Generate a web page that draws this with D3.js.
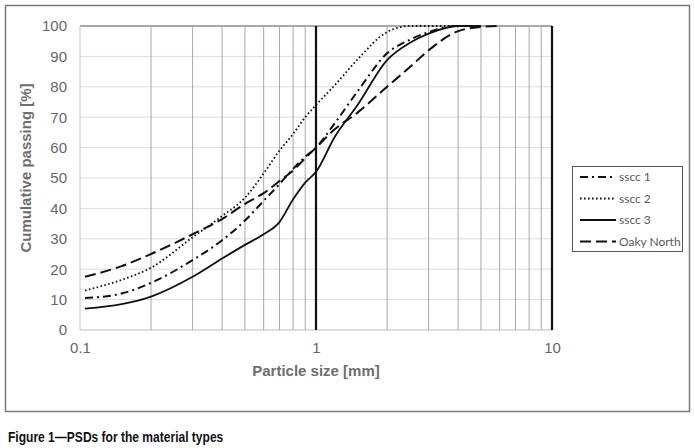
<!DOCTYPE html>
<html>
<head>
<meta charset="utf-8">
<script src="https://cdn.jsdelivr.net/npm/d3@7"></script>
<style>
  body { margin: 0; background: #fff; }
  svg { display: block; }
</style>
</head>
<body>
<div id="chart"></div>
<script>
// particle sizes [mm]
var sizes = [0.105, 0.15, 0.2, 0.3, 0.4, 0.5, 0.6, 0.7, 0.8, 0.9, 1, 1.2, 1.5, 2, 2.5, 3, 4, 5];
var sizesOaky = [0.105, 0.15, 0.2, 0.3, 0.4, 0.5, 0.6, 0.7, 0.8, 0.9, 1, 1.2, 1.5, 2, 2.5, 3, 4, 5, 6];

// cumulative passing [%]
var sscc1 = [10.5, 12, 15.5, 23, 29.5, 36, 42.5, 48, 53, 57, 60, 68, 78.5, 91, 95.5, 98, 100, 100];
var sscc2 = [13, 16.5, 20.5, 30.5, 37.5, 43.5, 51.5, 59, 64.5, 70, 74, 80.5, 89, 98, 100, 100, 100, 100];
var sscc3 = [7, 8.5, 11, 17.5, 23.5, 28, 31.5, 35.5, 43, 48.5, 52, 63.5, 74, 88.8, 94.5, 97.5, 100, 100];
var oaky  = [17.5, 21, 25, 31.5, 36.5, 41.5, 45, 49, 52.5, 56.5, 60, 66, 71.5, 80, 86.5, 92, 98.3, 99.7, 100];

var seriesNames = ["sscc 1", "sscc 2", "sscc 3", "Oaky North"];
var yTicks = [0, 10, 20, 30, 40, 50, 60, 70, 80, 90, 100];
var xTicks = [0.1, 1, 10];

var series = [
  { name: seriesNames[0], x: sizes, y: sscc1, dash: "8,4,2,4", w: 2 },
  { name: seriesNames[1], x: sizes, y: sscc2, dash: "1.6,2.4", w: 1.8 },
  { name: seriesNames[2], x: sizes, y: sscc3, dash: null, w: 1.8 },
  { name: seriesNames[3], x: sizesOaky, y: oaky, dash: "11,5", w: 2 }
];

var W = 695, H = 448;
var svg = d3.select("#chart").append("svg")
  .attr("width", W).attr("height", H);

// outer frame
svg.append("rect")
  .attr("x", 5.5).attr("y", 5.5)
  .attr("width", 684).attr("height", 406)
  .attr("fill", "none").attr("stroke", "#7a7a7a").attr("stroke-width", 1.5);

var x = d3.scaleLog().domain([0.1, 10]).range([80, 552]);
var y = d3.scaleLinear().domain([0, 100]).range([330, 26]);

// horizontal grid
svg.append("g").selectAll("line")
  .data(yTicks)
  .enter().append("line")
  .attr("x1", x(0.1)).attr("x2", x(10))
  .attr("y1", function(d) { return y(d); })
  .attr("y2", function(d) { return y(d); })
  .attr("stroke", function(d) { return d === 100 ? "#8c8c8c" : (d === 0 ? "#bdbdbd" : "#dcdcdc"); })
  .attr("stroke-width", function(d) { return d === 100 ? 1.5 : 1; });

// vertical grid (log minor + decades)
var vx = x.ticks();
svg.append("g").selectAll("line")
  .data(vx)
  .enter().append("line")
  .attr("x1", function(d) { return x(d); })
  .attr("x2", function(d) { return x(d); })
  .attr("y1", y(0)).attr("y2", y(100))
  .attr("stroke", function(d) {
    if (Math.abs(d - 1) < 1e-9 || Math.abs(d - 10) < 1e-9) return "#111";
    if (Math.abs(d - 0.1) < 1e-9) return "#c4c4c4";
    return "#a8a8a8";
  })
  .attr("stroke-width", function(d) {
    return (Math.abs(d - 1) < 1e-9 || Math.abs(d - 10) < 1e-9) ? 2.2 : 1;
  });

// axes (labels only)
var yAxis = svg.append("g")
  .attr("transform", "translate(" + (x(0.1) - 13) + ",0)")
  .call(d3.axisLeft(y).tickValues(yTicks).tickSize(0).tickPadding(0));
var xAxis = svg.append("g")
  .attr("transform", "translate(0," + (y(0) + 8) + ")")
  .call(d3.axisBottom(x).tickValues(xTicks).tickSize(0).tickPadding(4)
    .tickFormat(function(d) { return d3.format("~g")(d); }));
[yAxis, xAxis].forEach(function(a) {
  a.select(".domain").remove();
  a.selectAll("text")
    .style("font-family", "'Liberation Sans', Arial, sans-serif")
    .style("font-size", "15px")
    .attr("fill", "#666");
});

// axis titles
svg.append("text")
  .attr("transform", "translate(31," + ((y(0) + y(100)) / 2 - 10) + ") rotate(-90)")
  .attr("text-anchor", "middle")
  .style("font-family", "'Liberation Sans', Arial, sans-serif")
  .style("font-size", "15px").style("font-weight", "bold")
  .attr("fill", "#6e6e6e")
  .text("Cumulative passing [%]");

svg.append("text")
  .attr("x", x(1)).attr("y", 376)
  .attr("text-anchor", "middle")
  .style("font-family", "'Liberation Sans', Arial, sans-serif")
  .style("font-size", "15px").style("font-weight", "bold")
  .attr("fill", "#6e6e6e")
  .text("Particle size [mm]");

// series lines
var line = d3.line()
  .x(function(d) { return x(d[0]); })
  .y(function(d) { return y(d[1]); })
  .curve(d3.curveMonotoneX);

svg.append("g").selectAll("path")
  .data(series)
  .enter().append("path")
  .attr("d", function(s) { return line(d3.zip(s.x, s.y)); })
  .attr("fill", "none")
  .attr("stroke", "#111")
  .attr("stroke-width", function(s) { return s.w; })
  .attr("stroke-dasharray", function(s) { return s.dash; });

// legend
var lg = svg.append("g").attr("transform", "translate(572,166)");
lg.append("rect")
  .attr("x", 0.5).attr("y", 0.5).attr("width", 110).attr("height", 85)
  .attr("fill", "#fff").attr("stroke", "#555").attr("stroke-width", 1);
var items = lg.selectAll("g.item")
  .data(series)
  .enter().append("g")
  .attr("transform", function(d, i) { return "translate(0," + (11 + i * 21.5) + ")"; });
items.append("line")
  .attr("x1", 8).attr("x2", 44).attr("y1", 0).attr("y2", 0)
  .attr("stroke", "#111")
  .attr("stroke-width", function(s) { return s.w; })
  .attr("stroke-dasharray", function(s) { return s.dash; });
items.append("text")
  .attr("x", 47).attr("y", 4)
  .style("font-family", "Lato, 'Open Sans', sans-serif")
  .style("font-size", "12px")
  .attr("fill", "#595959")
  .text(function(s) { return s.name; });

// caption (condensed bold)
svg.append("text")
  .attr("transform", "translate(8,442) scale(0.86,1)")
  .style("font-family", "'Liberation Sans', Arial, sans-serif")
  .style("font-size", "14px").style("font-weight", "bold")
  .attr("fill", "#111")
  .text("Figure 1\u2014PSDs for the material types");
</script>
</body>
</html>
